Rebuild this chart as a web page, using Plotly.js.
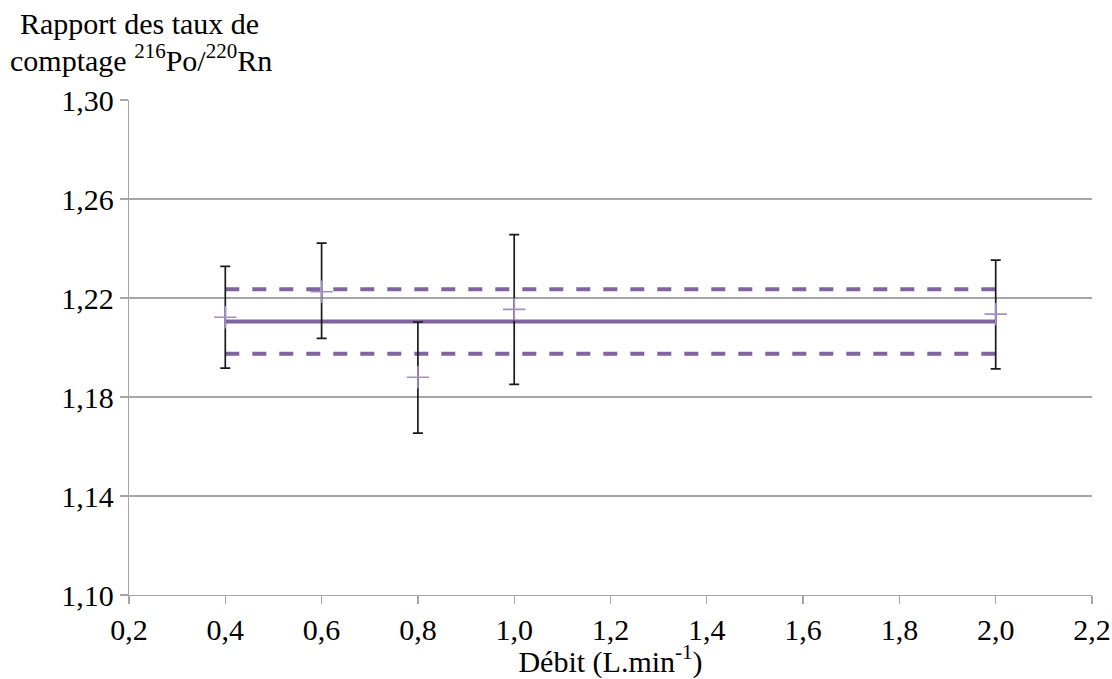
<!DOCTYPE html>
<html>
<head>
<meta charset="utf-8">
<script src="https://cdn.plot.ly/plotly-3.0.1.min.js"></script>
<style>html,body{margin:0;padding:0;background:#fff;}#chart{width:1112px;height:679px;}</style>
</head>
<body>
<div id="chart"></div>
<script>
// Data
const debit = [0.4, 0.6, 0.8, 1.0, 2.0];
const ratio = [1.2122, 1.2225, 1.1880, 1.2154, 1.2135];
const errPlus = [0.0206, 0.0197, 0.0223, 0.0302, 0.0218];
const errMinus = [0.0205, 0.0188, 0.0226, 0.0303, 0.0221];
const lineX = [0.4, 2.0];
const meanY = [1.2105, 1.2105];
const upperY = [1.2235, 1.2235];
const lowerY = [1.1975, 1.1975];
const xTicks = [0.2, 0.4, 0.6, 0.8, 1.0, 1.2, 1.4, 1.6, 1.8, 2.0, 2.2];
const xTickText = ['0,2','0,4','0,6','0,8','1,0','1,2','1,4','1,6','1,8','2,0','2,2'];
const yTicks = [1.10, 1.14, 1.18, 1.22, 1.26, 1.30];
const yTickText = ['1,10','1,14','1,18','1,22','1,26','1,30'];

const purple = '#8064A2';
const font = {family: '"Liberation Serif", "DejaVu Serif", serif', size: 30, color: '#000'};

const traces = [
  {x: lineX, y: upperY, mode: 'lines', line: {color: purple, width: 4, dash: '14px,13px'}, hoverinfo: 'skip'},
  {x: lineX, y: lowerY, mode: 'lines', line: {color: purple, width: 4, dash: '14px,13px'}, hoverinfo: 'skip'},
  {x: lineX, y: meanY, mode: 'lines', line: {color: purple, width: 4}, hoverinfo: 'skip'},
  {x: debit, y: ratio, mode: 'markers', type: 'scatter',
   marker: {symbol: 'cross-thin-open', size: 16, line: {color: '#A58DC9', width: 1.6}, color: '#A58DC9'},
   error_y: {type: 'data', symmetric: false, array: errPlus, arrayminus: errMinus,
             color: '#1a1a1a', thickness: 1.7, width: 5}}
];

const layout = {
  width: 1112, height: 679,
  margin: {l: 128.5, r: 20.3, t: 99.7, b: 84.3},
  paper_bgcolor: '#fff', plot_bgcolor: '#fff',
  showlegend: false,
  font: font,
  xaxis: {
    range: [0.2, 2.2], tickvals: xTicks, ticktext: xTickText,
    showgrid: false, zeroline: false, showline: true, linecolor: '#A6A6A6', linewidth: 1.3,
    ticks: 'outside', ticklen: 8, tickcolor: '#A6A6A6', tickwidth: 1.3,
    tickfont: font,
    title: {text: 'Débit (L.min<sup>-1</sup>)', font: font, standoff: 8}
  },
  yaxis: {
    range: [1.10, 1.30], tickvals: yTicks, ticktext: yTickText,
    showgrid: true, gridcolor: '#A6A6A6', gridwidth: 1.3,
    zeroline: false, showline: true, linecolor: '#A6A6A6', linewidth: 1.3,
    ticks: 'outside', ticklen: 8, tickcolor: '#A6A6A6', tickwidth: 1.3,
    tickfont: font
  },
  annotations: [
    {text: 'Rapport des taux de', xref: 'paper', yref: 'paper', x: -0.0, y: 1,
     showarrow: false, font: font},
    {text: 'comptage <sup>216</sup>Po/<sup>220</sup>Rn', xref: 'paper', yref: 'paper', x: 0, y: 1,
     showarrow: false, font: font}
  ]
};
// position title lines in pixels
const plotW = 1112 - 128.5 - 20.3, plotH = 679 - 99.7 - 84.3;
layout.annotations[0].x = (139 - 128.5) / plotW;
layout.annotations[0].y = (679 - 84.3 - 23) / plotH;
layout.annotations[1].x = (141 - 128.5) / plotW;
layout.annotations[1].y = (679 - 84.3 - 58) / plotH;
layout.annotations.forEach(a => { a.xanchor = 'center'; a.yanchor = 'middle'; });

Plotly.newPlot('chart', traces, layout, {staticPlot: true, displayModeBar: false});
</script>
</body>
</html>
